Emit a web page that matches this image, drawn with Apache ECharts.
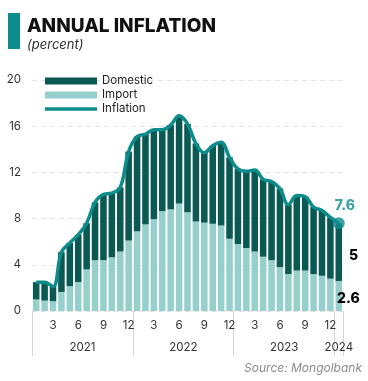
<!DOCTYPE html>
<html><head><meta charset="utf-8">
<script src="https://cdn.jsdelivr.net/npm/echarts@6/dist/echarts.min.js"></script>
<style>html,body{margin:0;padding:0;background:#fff}#c{width:368px;height:381px}</style>
</head><body><div id="c"></div>
<script>
const months = ['1','2','3','4','5','6','7','8','9','10','11','12',
                '1','2','3','4','5','6','7','8','9','10','11','12',
                '1','2','3','4','5','6','7','8','9','10','11','12',
                '1'];
const years = ['2021','2022','2023','2024'];
const importVals = [1.0,0.9,0.85,1.65,2.15,2.5,3.6,4.4,4.4,4.65,5.15,6.1,
                    6.9,7.5,7.95,8.65,8.8,9.3,8.55,7.75,7.65,7.55,7.4,6.25,
                    5.8,5.45,5.15,4.7,4.4,3.8,3.2,3.5,3.5,3.2,3.05,2.8,
                    2.6];
const domesticVals = [1.5,1.6,1.25,3.45,3.75,4.1,4.0,5.0,5.7,5.55,5.55,7.7,
                      8.2,7.8,7.75,7.05,7.3,7.6,7.65,6.75,6.05,6.75,7.2,7.05,
                      6.5,6.65,7.05,6.7,6.8,6.8,6.0,6.5,6.4,5.8,5.65,5.3,
                      5.0];
const inflationVals = [2.5,2.5,2.1,5.1,5.9,6.6,7.6,9.4,10.1,10.2,10.7,13.8,
                       15.1,15.3,15.7,15.7,16.1,16.9,16.2,14.5,13.7,14.3,14.6,13.3,
                       12.3,12.1,12.2,11.4,11.2,10.6,9.2,10.0,9.9,9.0,8.7,8.1,
                       7.6];
const yTicks = [0,4,8,12,16,20];

const C_DOM = '#0a5953', C_IMP = '#97cfcd', C_LINE = '#0c8d8c';
const FONT = 'Inter';
const n = months.length;
const last = n - 1;

function withLastLabel(arr, lbl) {
  return arr.map((v, i) => i === last ? {value: v, label: lbl} : v);
}

// year label positions = centre of each year's block of months
const yearCentres = {};
(function(){
  let start = 0, yi = 0;
  for (let i = 1; i <= n; i++) {
    if (i === n || months[i] === '1') {
      yearCentres[(start + i) / 2] = years[yi++];
      start = i;
    }
  }
})();

const chart = echarts.init(document.getElementById('c'), null, {renderer: 'canvas'});
chart.setOption({
  animation: false,
  textStyle: {fontFamily: FONT},
  title: {
    text: 'ANNUAL INFLATION', subtext: '(percent)',
    left: 27, top: 17, itemGap: 3, padding: 0,
    textStyle: {fontFamily: FONT, fontSize: 19, fontWeight: 800, color: '#111'},
    subtextStyle: {fontFamily: FONT, fontSize: 13, fontStyle: 'italic', color: '#333'}
  },
  graphic: [
    {type: 'rect', left: 8, top: 13, shape: {width: 12, height: 36}, style: {fill: C_LINE}},
    {type: 'text', right: 6, top: 362, style: {text: 'Source: Mongolbank', font: 'italic 12px Inter', fill: '#8a8a8a'}}
  ],
  legend: {
    orient: 'vertical', left: 45, top: 75, padding: 0,
    itemWidth: 52, itemHeight: 7, itemGap: 2, symbolKeepAspect: true,
    data: [
      {name: 'Domestic', icon: 'rect'},
      {name: 'Import', icon: 'rect'},
      {name: 'Inflation', icon: 'path://M0,0H52V3.5H0Z'}
    ],
    textStyle: {fontFamily: FONT, fontSize: 11.5, color: '#222'},
    selectedMode: false
  },
  grid: {left: 32, right: 25, top: 80, bottom: 70},
  xAxis: [
    {
      type: 'category', data: months, position: 'bottom', boundaryGap: true,
      axisLine: {show: false}, axisTick: {show: false},
      axisLabel: {
        interval: (i) => (Number(months[i]) % 3 === 0),
        color: '#333', fontSize: 11.5, margin: 9, fontFamily: FONT
      }
    },
    {
      type: 'value', position: 'bottom', min: 0, max: n, interval: 12,
      axisLine: {show: false}, splitLine: {show: false}, axisLabel: {show: false},
      axisTick: {show: true, length: 45, lineStyle: {color: '#d6d6d6', width: 1}}
    },
    {
      type: 'value', position: 'bottom', min: 0, max: n, interval: 0.5,
      axisLine: {show: false}, splitLine: {show: false}, axisTick: {show: false},
      axisLabel: {
        color: '#333', fontSize: 11.5, margin: 31, fontFamily: FONT,
        showMinLabel: true, showMaxLabel: true,
        formatter: (v) => yearCentres[v] || ''
      }
    }
  ],
  yAxis: {
    type: 'value', min: yTicks[0], max: yTicks[yTicks.length - 1], interval: 4,
    axisLine: {show: false}, axisTick: {show: false},
    axisLabel: {color: '#333', fontSize: 11.5, margin: 11, fontFamily: FONT},
    splitLine: {lineStyle: {color: '#e3e3e3', type: [5, 4], width: 1}}
  },
  series: [
    {
      name: 'Import', type: 'bar', stack: 'inf', xAxisIndex: 0,
      barCategoryGap: '22%', itemStyle: {color: C_IMP},
      data: withLastLabel(importVals, {
        show: true, position: 'right', distance: 0, offset: [-5, 3],
        formatter: (p) => String(p.value), color: '#000', fontSize: 14, fontWeight: 800, fontFamily: FONT
      })
    },
    {
      name: 'Domestic', type: 'bar', stack: 'inf', xAxisIndex: 0,
      barCategoryGap: '22%', itemStyle: {color: C_DOM},
      data: withLastLabel(domesticVals, {
        show: true, position: 'right', distance: 0, offset: [7, 4],
        formatter: (p) => String(p.value), color: '#000', fontSize: 14, fontWeight: 800, fontFamily: FONT
      })
    },
    {
      name: 'Inflation', type: 'line', xAxisIndex: 0, smooth: 0.4,
      symbol: 'none', lineStyle: {color: C_LINE, width: 3.5}, itemStyle: {color: C_LINE},
      data: inflationVals, z: 5
    },
    {
      name: 'InflationEnd', type: 'scatter', xAxisIndex: 0,
      symbol: 'circle', symbolSize: 12, itemStyle: {color: C_LINE}, z: 6,
      data: [[last, inflationVals[last]]],
      label: {
        show: true, position: 'top', distance: 4, offset: [6, 0],
        formatter: (p) => String(p.value[1]), color: C_LINE, fontSize: 14, fontWeight: 800, fontFamily: FONT
      }
    }
  ]
});
</script></body></html>
